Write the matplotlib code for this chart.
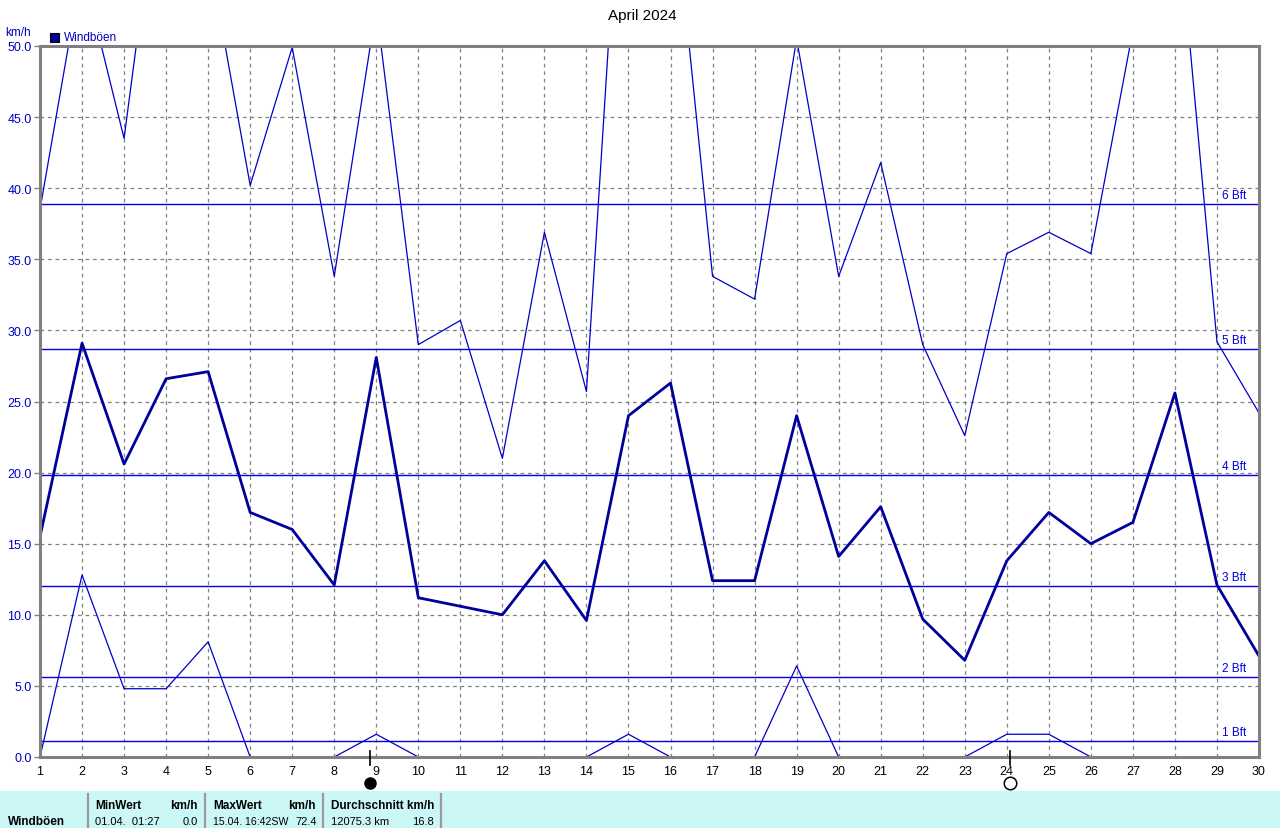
import matplotlib
matplotlib.use("Agg")
import matplotlib.pyplot as plt
from matplotlib.patches import Rectangle
from matplotlib.lines import Line2D
import matplotlib.transforms as mtransforms

plt.rcParams['font.family'] = ['Liberation Sans', 'DejaVu Sans']

days = list(range(1, 31))
gust_max = [38.5, 55.5, 43.5, 66.0, 56.7, 40.2, 49.9, 33.8, 52.7, 29.0,
            30.7, 21.0, 36.9, 25.7, 72.4, 63.0, 33.8, 32.2, 50.5, 33.8,
            41.8, 29.0, 22.6, 35.4, 36.9, 35.4, 51.1, 61.6, 29.2, 24.2]
gust_avg = [15.5, 29.1, 20.6, 26.6, 27.1, 17.2, 16.0, 12.1, 28.1, 11.2,
            10.6, 10.0, 13.8, 9.6, 24.0, 26.3, 12.4, 12.4, 24.0, 14.1,
            17.6, 9.7, 6.8, 13.8, 17.2, 15.0, 16.5, 25.6, 12.1, 7.1]
gust_min = [0.0, 12.8, 4.8, 4.8, 8.1, 0.0, 0.0, 0.0, 1.6, 0.0,
            0.0, 0.0, 0.0, 0.0, 1.6, 0.0, 0.0, 0.0, 6.4, 0.0,
            0.0, 0.0, 0.0, 1.6, 1.6, 0.0, 0.0, 0.0, 0.0, 0.0]
bft_levels = [1.1, 5.6, 12.0, 19.8, 28.7, 38.9]
bft_labels = ["1 Bft", "2 Bft", "3 Bft", "4 Bft", "5 Bft", "6 Bft"]
yticks = [0, 5, 10, 15, 20, 25, 30, 35, 40, 45, 50]
new_moon_day = 8.85
full_moon_day = 24.07

W, H = 1280, 829
fig = plt.figure(figsize=(W / 100, H / 100), dpi=100)
fig.patch.set_facecolor('white')

ax_l, ax_r, ax_t, ax_b = 40, 1259, 47, 758
ax = fig.add_axes([ax_l / W, 1 - ax_b / H, (ax_r - ax_l) / W, (ax_b - ax_t) / H])
ax.set_xlim(1, 30)
ax.set_ylim(0, 50)

gray = '#808080'
for s in ax.spines.values():
    s.set_color(gray)
    s.set_linewidth(2.2)
    s.set_zorder(6)

ax.set_xticks(days)
ax.set_xticklabels([str(d) for d in days], fontsize=9, color='black')
ax.set_yticks(yticks)
ax.set_yticklabels([f"{v:.1f}" for v in yticks], fontsize=9, color='#0000C0')
ax.tick_params(axis='x', length=0, pad=6)
ax.tick_params(axis='y', length=4, width=1, color=gray, pad=2)
ax.grid(True, color=gray, linestyle=(0, (3, 3)), linewidth=0.9)
ax.set_axisbelow(True)

for lvl, lab in zip(bft_levels, bft_labels):
    ax.axhline(lvl, color='#0000E0', linewidth=1.0, zorder=2)
    ax.annotate(lab, xy=(1, lvl), xycoords=('axes fraction', 'data'),
                xytext=(-13, 3), textcoords='offset pixels', ha='right', va='bottom',
                fontsize=8.5, color='#0000E0')

ax.plot(days, gust_max, color='#0000C8', linewidth=0.9, zorder=3)
ax.plot(days, gust_min, color='#0000C8', linewidth=0.9, zorder=3)
ax.plot(days, gust_avg, color='#00009C', linewidth=2.0, zorder=4)

# moon phases
trans = mtransforms.blended_transform_factory(ax.transData, ax.transAxes)
for d in (new_moon_day, full_moon_day):
    ax.add_line(Line2D([d, d], [-0.011, 0.008], transform=trans, color='black',
                       linewidth=1.2, clip_on=False, zorder=7))
ax.plot([new_moon_day], [-0.036], transform=trans, marker='o', markersize=8,
        markerfacecolor='black', markeredgecolor='black', clip_on=False)
ax.plot([full_moon_day], [-0.036], transform=trans, marker='o', markersize=9,
        markerfacecolor='white', markeredgecolor='black', markeredgewidth=1.1, clip_on=False)

# title, units, legend
fig.text(642 / W, 1 - 16 / H, "April 2024", ha='center', va='center', fontsize=11, color='black')
fig.text(5 / W, 1 - 33 / H, "km/h", ha='left', va='center', fontsize=8.5, color='#0000C0')
fig.patches.append(Rectangle((50 / W, 1 - 43 / H), 9 / W, 9 / H, transform=fig.transFigure,
                             facecolor='#00009C', edgecolor='black', linewidth=0.8))
fig.text(64 / W, 1 - 38 / H, "Windböen", ha='left', va='center', fontsize=8.5, color='#0000C0')

# bottom table
fig.patches.append(Rectangle((0, 0), 1, 37 / H, transform=fig.transFigure,
                             facecolor='#CCF7F7', edgecolor='none', zorder=0))
for xs in (88, 205, 323, 441):
    fig.add_artist(Line2D([xs / W, xs / W], [0, 34 / H], transform=fig.transFigure,
                          color='#9A9A9A', linewidth=1.6))
yh = 1 - 806 / H
yr = 1 - 822 / H
fs = 8.5
fsr = 8
fig.text(8 / W, yr, "Windböen", ha='left', va='center', fontsize=fs, fontweight='bold')
fig.text(95 / W, yh, "MinWert", ha='left', va='center', fontsize=fs, fontweight='bold')
fig.text(198 / W, yh, "km/h", ha='right', va='center', fontsize=fs, fontweight='bold')
fig.text(213 / W, yh, "MaxWert", ha='left', va='center', fontsize=fs, fontweight='bold')
fig.text(316 / W, yh, "km/h", ha='right', va='center', fontsize=fs, fontweight='bold')
fig.text(331 / W, yh, "Durchschnitt km/h", ha='left', va='center', fontsize=fs, fontweight='bold')
fig.text(95 / W, yr, "01.04.  01:27", ha='left', va='center', fontsize=fsr)
fig.text(198 / W, yr, "0.0", ha='right', va='center', fontsize=fsr)
fig.text(213 / W, yr, "15.04. 16:42SW", ha='left', va='center', fontsize=7.6)
fig.text(317 / W, yr, "72.4", ha='right', va='center', fontsize=fsr)
fig.text(331 / W, yr, "12075.3 km", ha='left', va='center', fontsize=fsr)
fig.text(434 / W, yr, "16.8", ha='right', va='center', fontsize=fsr)

fig.savefig("out.png", dpi=100, facecolor='white')
